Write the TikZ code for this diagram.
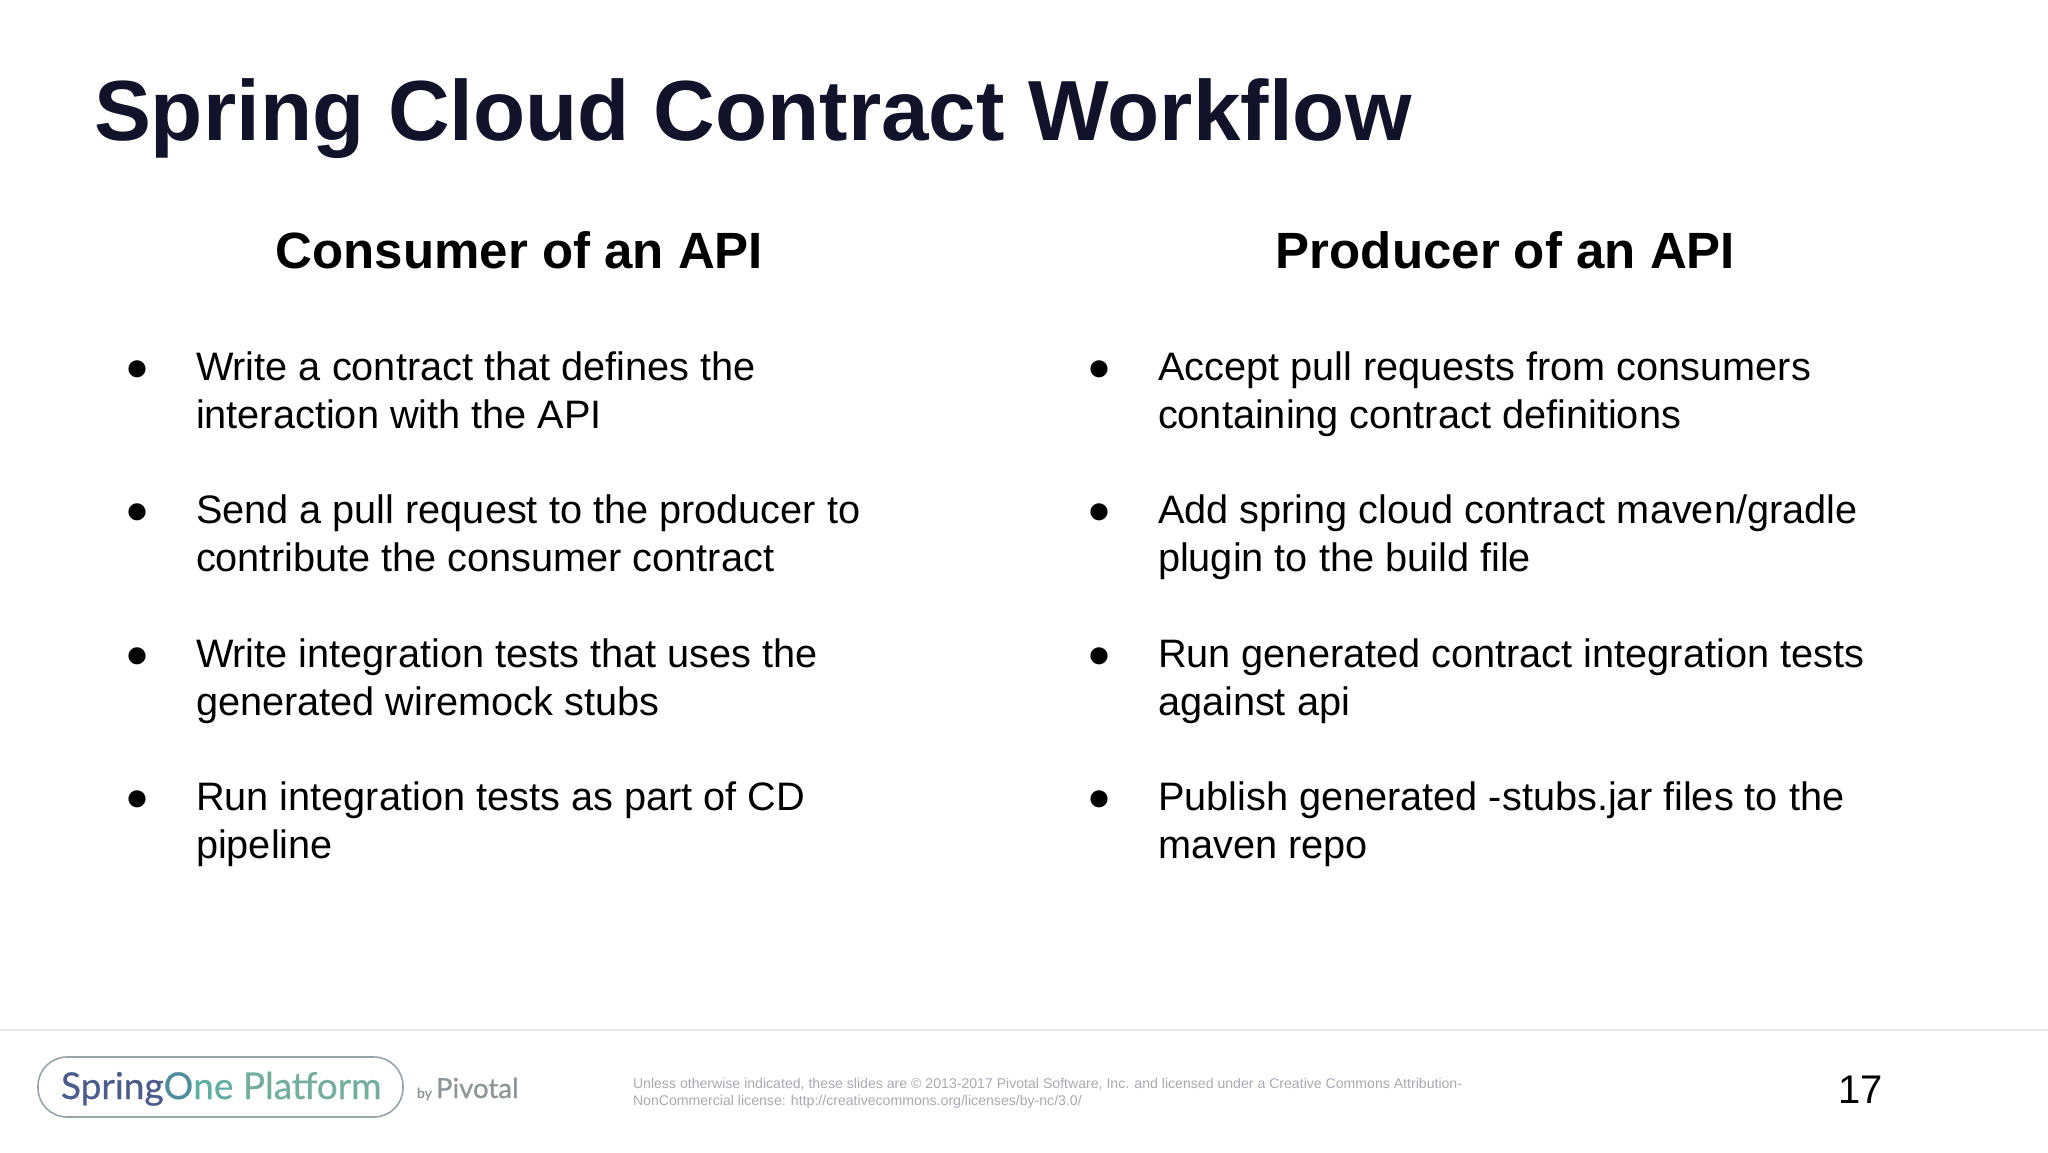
\documentclass[tikz,border=0pt]{standalone}
\usepackage{fontspec}
\setmainfont{Liberation Sans}
\newfontfamily\logofont[FakeBold=0.5]{Lato}
\definecolor{titlecol}{HTML}{12122A}
\definecolor{rulecol}{HTML}{E6E6EA}
\definecolor{finecol}{HTML}{A9A9B2}
\definecolor{logoedge}{HTML}{98A4A8}
\definecolor{logoa}{HTML}{4A5C8C}
\definecolor{logob}{HTML}{4F8C9C}
\definecolor{logoc}{HTML}{5FAFA4}
\definecolor{logod}{HTML}{73AE9C}
\definecolor{pivcol}{HTML}{8E9396}
\tikzset{
  txt/.style={inner sep=0pt,outer sep=0pt,anchor=base west,text=black},
  itemtxt/.style={txt,font=\fontsize{39.7}{47.7}\selectfont,align=left,anchor=north west},
  bul/.style={inner sep=0pt,outer sep=0pt,anchor=center,font=\fontsize{39.7}{47.7}\selectfont},
  head/.style={txt,anchor=base,font=\fontsize{51}{60}\bfseries\selectfont},
  fine/.style={txt,text=finecol,font=\fontsize{14.1}{16}\selectfont},
}
\begin{document}
\begin{tikzpicture}[x=1pt,y=-1pt]
\useasboundingbox (0,0) rectangle (2048,1152);
\fill[white] (0,0) rectangle (2048,1152);
\node[txt,text=titlecol,font=\fontsize{85.4}{100}\bfseries\selectfont] (title) at (94,140) {Spring Cloud Contract Workflow};
\node[head] (hl) at (519.5,268) {Consumer of an API};
\node[head] (hr) at (1505.5,268) {Producer of an API};
% left column
\node[bul] (bl1) at (137,370.5) {●};
\node[itemtxt] (l1) at (196,352) {Write a contract that defines the\\interaction with the API};
\node[bul] (bl2) at (137,513.5) {●};
\node[itemtxt] (l2) at (196,495) {Send a pull request to the producer to\\contribute the consumer contract};
\node[bul] (bl3) at (137,657.5) {●};
\node[itemtxt] (l3) at (196,638.7) {Write integration tests that uses the\\generated wiremock stubs};
\node[bul] (bl4) at (137,800.5) {●};
\node[itemtxt] (l4) at (196,782) {Run integration tests as part of CD\\pipeline};
% right column
\node[bul] (br1) at (1099,370.5) {●};
\node[itemtxt] (r1) at (1158,352) {Accept pull requests from consumers\\containing contract definitions};
\node[bul] (br2) at (1099,513.5) {●};
\node[itemtxt] (r2) at (1158,495) {Add spring cloud contract maven/gradle\\plugin to the build file};
\node[bul] (br3) at (1099,657.5) {●};
\node[itemtxt] (r3) at (1158,638.7) {Run generated contract integration tests\\against api};
\node[bul] (br4) at (1099,800.5) {●};
\node[itemtxt] (r4) at (1158,782) {Publish generated -stubs.jar files to the\\maven repo};
% footer
\draw[rulecol,line width=2pt] (0,1030) -- (2048,1030);
\draw[logoedge,line width=1.6pt,rounded corners=29pt] (38,1057) rectangle (403,1117);
\node[txt,font=\logofont\fontsize{37}{40}\selectfont] (logo) at (61,1099) {\textcolor{logoa}{Spring}\textcolor{logob}{O}\textcolor{logoc}{ne} \textcolor{logod}{Platform}};
\node[txt,text=pivcol,font=\logofont\fontsize{14}{16}\selectfont] (by) at (417,1098) {by};
\node[txt,text=pivcol,font=\logofont\fontsize{27.6}{28}\selectfont] (piv) at (436,1098) {Pivotal};
\node[fine] (f1) at (633,1088) {Unless otherwise indicated, these slides are © 2013-2017 Pivotal Software, Inc. and licensed under a Creative Commons Attribution-};
\node[fine] (f2) at (633,1105) {NonCommercial license: http://creativecommons.org/licenses/by-nc/3.0/};
\node[txt,font=\fontsize{40}{46}\selectfont] (page) at (1838,1103) {17};
\end{tikzpicture}
\end{document}
